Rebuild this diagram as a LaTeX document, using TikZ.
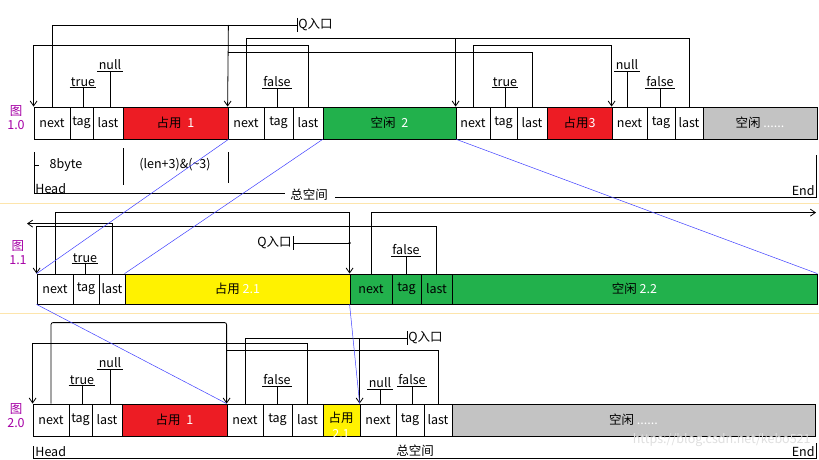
\documentclass[tikz,border=0pt]{standalone}
\usepackage{fontspec}
\setmainfont{Noto Sans CJK SC}
\usetikzlibrary{calc,arrows.meta}
\newcommand\mkcell[7]{\node[cell,fill=#6,minimum width={(#3-#2)*1pt},minimum height={#5*1pt}] (#1) at ({(#2+#3)/2},{-(#4)}) {#7};}
\begin{document}
\begin{tikzpicture}[x=1pt,y=1pt,line width=0.8pt,
  cell/.style={draw,inner sep=0pt,font=\fontsize{12.5}{14}\selectfont},
  lbl/.style={inner sep=1pt,font=\fontsize{12.5}{14}\selectfont},
  ul/.style={line width=0.8pt},
  fig/.style={align=center,font=\fontsize{12.5}{14}\selectfont,text=violet!70!magenta,inner sep=0pt},
  blu/.style={blue!75,line width=0.5pt},
  sep/.style={draw=yellow!40!orange!30,line width=1pt},
  arr/.style={-{Straight Barb[length=5pt,width=7pt]}}]
\useasboundingbox (0,0) rectangle (819,-460);
\fill[white] (0,0) rectangle (819,-460);
\definecolor{rd}{RGB}{237,28,36}
\definecolor{gr}{RGB}{34,177,76}
\definecolor{yl}{RGB}{255,242,0}
\definecolor{gy}{RGB}{195,195,195}
% separators
\draw[sep] (0,-203) -- (819,-203);
\draw[sep] (0,-313) -- (819,-313);
% ---------- row 1.0
\mkcell{an1}{34}{70}{123}{32}{white}{next}
\mkcell{at1}{70}{93}{123}{32}{white}{tag}
\mkcell{al1}{93}{123}{123}{32}{white}{last}
\mkcell{ab1}{123}{228}{123}{32}{rd}{占用 \ \textcolor{white}{1}}
\mkcell{an2}{228}{264}{123}{32}{white}{next}
\mkcell{at2}{264}{293}{123}{32}{white}{tag}
\mkcell{al2}{293}{323}{123}{32}{white}{last}
\mkcell{ab2}{323}{456}{123}{32}{gr}{空闲 \ \textcolor{white}{2}}
\mkcell{an3}{456}{490}{123}{32}{white}{next}
\mkcell{at3}{490}{517}{123}{32}{white}{tag}
\mkcell{al3}{517}{547}{123}{32}{white}{last}
\mkcell{ab3}{547}{612}{123}{32}{rd}{占用\textcolor{white}{3}}
\mkcell{an4}{612}{647}{123}{32}{white}{next}
\mkcell{at4}{647}{675}{123}{32}{white}{tag}
\mkcell{al4}{675}{703}{123}{32}{white}{last}
\mkcell{ab4}{703}{817}{123}{32}{gy}{空闲 \textcolor{white}{......}}
\node[fig] (g1) at (16,-118) {图\\1.0};
% links 1.0
\coordinate (qa) at (297,-25);
\draw (an1.north) |- (qa);
\draw ([yshift=7]qa) -- ([yshift=-7]qa);
\node[lbl,anchor=west] (qat) at (qa) {Q入口};
\draw[arr] (ab1.north east |- qa) -- (an2.north west);
\draw[arr] (al2.north) -- ++(0,61) -| (an1.north west);
\draw (an2.north) -- ++(0,68) -| (al4.north);
\draw[arr] ([yshift=68]an3.north west) -- (an3.north west);
\draw (al3.north) -- ++(0,54) -- ++(-304,0);
\draw[arr] (an3.north) -- ++(0,61) -| (an4.north west);
\foreach \n/\t/\x/\y/\c in {t1/true/83/82/at1, n1/null/110/65/al1, f1/false/277/82/at2, t3/true/505/82/at3, n4/null/627/65/an4, f4/false/660/82/at4}{
  \node[lbl] (\n) at (\x,-\y) {\t};
  \draw[ul] (\n.south west) -- (\n.south east);
  \draw (\n.south) -- (\n.south |- \c.north);
}
% below 1.0
\coordinate (h1) at (34,-152);
\draw (h1) -- ++(0,-41);
\draw (34,-165) -- (39,-165);
\node[lbl] (b8) at (66,-165) {8byte};
\draw (123,-148) -- (123,-185);
\node[lbl] (lenf) at (175,-165) {(len+3)\&(\textasciitilde3)};
\draw (228,-152) -- (228,-183);
\node[lbl,anchor=west] (hd1) at (34,-189) {Head};
\draw (34,-193) -- (285,-193);
\node[lbl] (zk1) at (309,-195) {总空间};
\draw (335,-197) -- (817,-197);
\draw (816,-155) -- (816,-197);
\node[lbl,anchor=east] (en1) at (816,-191) {End};
% ---------- row 1.1
\mkcell{bn1}{37}{73}{289}{30}{white}{next}
\mkcell{bt1}{73}{99}{289}{30}{white}{tag}
\mkcell{bl1}{99}{125}{289}{30}{white}{last}
\mkcell{bb1}{125}{350}{289}{30}{yl}{占用 \textcolor{white}{2.1}}
\mkcell{bn2}{350}{392}{289}{30}{gr}{next}
\mkcell{bt2}{392}{421}{289}{30}{gr}{tag}
\mkcell{bl2}{421}{452}{289}{30}{gr}{last}
\mkcell{bb2}{452}{817}{289}{30}{gr}{空闲 \textcolor{white}{2.2}}
\node[fig] (g2) at (18,-253) {图\\1.1};
\draw[arr] (bn1.north) -- ++(0,61) -| (bn2.north west);
\draw[arr] (bl1.north) -- ++(0,50) -- ++(-85,0);
\draw[arr] (bl2.north) -- ++(0,47) -| (bn1.north west);
\draw[arr] (bn2.north) -- ++(0,61) -- ++(445,0);
\coordinate (qb) at (293,-243);
\draw ([yshift=7]qb) -- ([yshift=-7]qb);
\draw (qb) -- (bn2.north west |- qb);
\fill (bn2.north west |- qb) circle (1.3);
\node[lbl,anchor=east] (qbt) at (qb) {Q入口};
\foreach \n/\t/\x/\y/\c in {t2/true/85/258/bt1, f2/false/406/250/bt2}{
  \node[lbl] (\n) at (\x,-\y) {\t};
  \draw[ul] (\n.south west) -- (\n.south east);
  \draw (\n.south) -- (\n.south |- \c.north);
}
% ---------- row 2.0
\mkcell{cn1}{33}{69}{420}{32}{white}{next}
\mkcell{ct1}{69}{92}{420}{32}{white}{tag}
\mkcell{cl1}{92}{122}{420}{32}{white}{last}
\mkcell{cb1}{122}{227}{420}{32}{rd}{占用 \ \textcolor{white}{1}}
\mkcell{cn2}{227}{263}{420}{32}{white}{next}
\mkcell{ct2}{263}{292}{420}{32}{white}{tag}
\mkcell{cl2}{292}{323}{420}{32}{white}{last}
\mkcell{cb2}{323}{360}{420}{32}{yl}{}
\node[lbl] (cb2a) at (341,-418) {占用};
\node[lbl,text=white] (cb2b) at (341,-434) {2.1};
\mkcell{cn3}{360}{396}{420}{32}{white}{next}
\mkcell{ct3}{396}{424}{420}{32}{white}{tag}
\mkcell{cl3}{424}{452}{420}{32}{white}{last}
\mkcell{cb3}{452}{815}{420}{32}{gy}{空闲 \textcolor{white}{......}}
\node[fig] (g3) at (16,-416) {图\\2.0};
\draw[arr,rounded corners=2pt] (cn1.north) -- ++(0,81) -| (cn2.north west);
\draw[arr] (cl2.north) -- ++(0,60) -| (cn1.north west);
\coordinate (qc) at (407,-338);
\draw (cn2.north) |- (qc);
\draw ([yshift=7]qc) -- ([yshift=-7]qc);
\node[lbl,anchor=west] (qct) at (qc) {Q入口};
\draw[arr] (cn3.north west |- qc) -- (cn3.north west);
\draw (cl3.north) -- ++(0,53) -- ++(-211,0);
\foreach \n/\t/\x/\y/\c in {t5/true/82/380/ct1, n5/null/110/363/cl1, f5/false/277/380/ct2, n6/null/380/383/cn3, f6/false/412/380/ct3}{
  \node[lbl] (\n) at (\x,-\y) {\t};
  \draw[ul] (\n.south west) -- (\n.south east);
  \draw (\n.south) -- (\n.south |- \c.north);
}
\draw (33,-446) -- (33,-458);
\node[lbl,anchor=west] (hd2) at (34,-452) {Head};
\node[lbl] (zk2) at (415,-451) {总空间};
\node[lbl,anchor=east] (en2) at (816,-452) {End};
\draw (816,-443) -- (816,-458);
\draw (33,-458) -- (817,-458);
\node[lbl,text=gray!25,anchor=east] (wm) at (812,-440) {https://blog.csdn.net/kebo521};
% blue lines
\draw[blu] (ab1.south east) -- (bn1.north west);
\draw[blu] (ab2.south west) -- (bb1.north west);
\draw[blu] (ab2.south east) -- (bb2.north east);
\draw[blu] (bn1.south west) -- (cn2.north west);
\draw[blu] (bn2.south west) -- (cn3.north west);
\end{tikzpicture}
\end{document}
